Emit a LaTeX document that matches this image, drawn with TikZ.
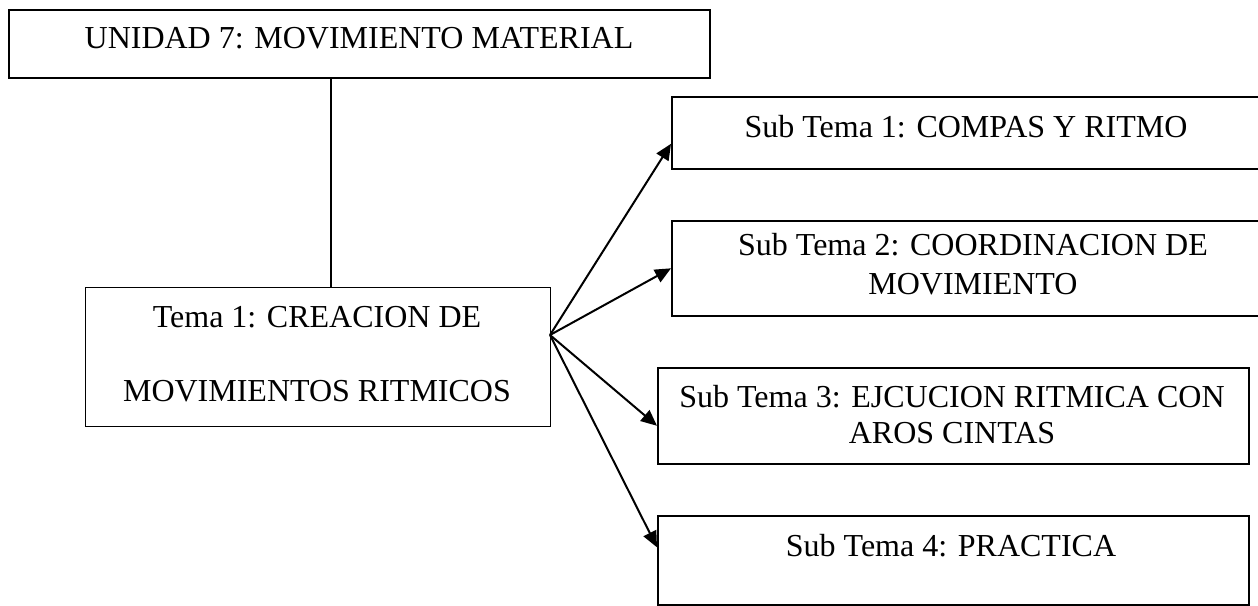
\documentclass[tikz,border=0pt]{standalone}
\usepackage{fontspec}
\setmainfont{Liberation Serif}
\usetikzlibrary{arrows.meta}

\tikzset{
  caja/.style={draw, line width=0.8pt, inner sep=0pt, anchor=north west},
  texto/.style={anchor=base, inner sep=0pt, font=\fontsize{16}{18}\selectfont},
  flecha/.style={line width=1pt, -{Triangle[length=8pt, width=7pt]}}
}

\begin{document}
\begin{tikzpicture}[x=0.5pt, y=-0.5pt]
\clip (0,0) rectangle (1258,605);

\def\xtema{85};
\def\xsub{671};
\def\xsubb{657};

% cajas
\node [caja, minimum width=350.5pt, minimum height=34pt] (unidad) at (8,9) {};
\node [caja, line width=0.65pt, minimum width=232.5pt, minimum height=69.5pt] (tema) at (\xtema,287) {};
\node [caja, minimum width=302pt, minimum height=36pt] (sub1) at (\xsub,96) {};
\node [caja, minimum width=302pt, minimum height=47.5pt] (sub2) at (\xsub,220) {};
\node [caja, minimum width=295.5pt, minimum height=48pt] (sub3) at (\xsubb,367) {};
\node [caja, minimum width=295.5pt, minimum height=44.5pt] (sub4) at (\xsubb,515) {};

% textos
\node [texto] (unidadT) at (359,48) {UNIDAD 7: MOVIMIENTO MATERIAL};
\node [texto] (temaA) at (317,327) {Tema 1: CREACION DE};
\node [texto] (temaB) at (317,401) {MOVIMIENTOS RITMICOS};
\node [texto] (sub1T) at (966,137) {Sub Tema 1: COMPAS Y RITMO};
\node [texto] (sub2A) at (973,255) {Sub Tema 2: COORDINACION DE};
\node [texto] (sub2B) at (973,294) {MOVIMIENTO};
\node [texto] (sub3A) at (952,407) {Sub Tema 3: EJCUCION RITMICA CON};
\node [texto] (sub3B) at (952,443) {AROS CINTAS};
\node [texto] (sub4T) at (951,556) {Sub Tema 4: PRACTICA};

% conectores
\coordinate (linea) at (331,0);
\coordinate (fork) at (550,335);
\draw [line width=0.6pt] (unidad.south -| linea) -- (tema.north -| linea);

\draw [flecha] (fork) -- ([yshift=-5.5pt]sub1.west);
\draw [flecha] (fork) -- (sub2.west);
\draw [flecha] (fork) -- ([yshift=-5pt]sub3.west);
\draw [flecha] (fork) -- ([yshift=6.5pt]sub4.west);

\end{tikzpicture}
\end{document}
